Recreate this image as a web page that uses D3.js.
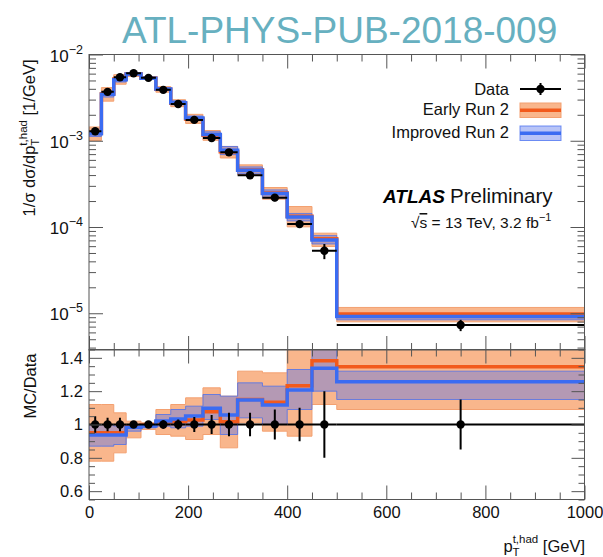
<!DOCTYPE html>
<html>
<head>
<meta charset="utf-8">
<script src="https://cdn.jsdelivr.net/npm/d3@7"></script>
<style>
  body { margin: 0; background: #fff; }
  svg text { font-family: "Liberation Sans", Arial, Helvetica, sans-serif; }
</style>
</head>
<body>
<svg id="chart" width="603" height="557"></svg>
<script>
// Hadronic top-quark pT: unfolded data vs. two MC tunes, with MC/Data ratio

const binEdges = [0, 25, 50, 75, 105, 135, 165, 195, 230, 265, 300, 350, 400, 450, 500, 1000];

// normalised cross-section, 1/GeV
const dataValues = [1.29e-3, 3.69e-3, 5.45e-3, 6.06e-3, 5.36e-3, 3.89e-3, 2.67e-3, 1.745e-3,
                    1.077e-3, 7.34e-4, 3.98e-4, 2.19e-4, 1.08e-4, 5.3e-5, 7.3e-6];
const dataRelErr = [0.05, 0.04, 0.04, 0.02, 0.02, 0.025, 0.03, 0.045, 0.057, 0.07, 0.07, 0.09, 0.10, 0.20, 0.15];

// MC / Data ratios: central value and uncertainty band edges
const earlyRatio = [0.951, 0.951, 0.951, 0.990, 0.997, 1.015, 1.018, 1.027, 1.077, 1.017, 1.150, 1.133, 1.233, 1.383, 1.347];
const earlyLo    = [0.78, 0.78, 0.83, 0.92, 0.97, 0.94, 0.93, 0.91, 0.94, 0.86, 1.01, 0.96, 0.93, 1.12, 1.09];
const earlyHi    = [1.12, 1.12, 1.07, 1.02, 1.01, 1.09, 1.12, 1.16, 1.22, 1.17, 1.32, 1.31, 1.60, 1.60, 1.60];

const improvedRatio = [0.937, 0.937, 0.937, 0.983, 0.991, 1.021, 1.033, 1.051, 1.097, 1.057, 1.147, 1.117, 1.207, 1.337, 1.257];
const improvedLo    = [0.87, 0.87, 0.88, 0.96, 0.98, 0.99, 0.98, 0.99, 1.03, 0.94, 1.04, 1.00, 1.09, 1.20, 1.15];
const improvedHi    = [1.00, 1.00, 0.99, 0.99, 1.00, 1.06, 1.09, 1.11, 1.18, 1.17, 1.25, 1.23, 1.33, 1.50, 1.32];

const xMajorTicks = [0, 200, 400, 600, 800, 1000];
const yTopMajorTicks = [1e-2, 1e-3, 1e-4, 1e-5];
const yTopTickLabels = ["\u22122", "\u22123", "\u22124", "\u22125"];
const yBotMajorTicks = [0.6, 0.8, 1.0, 1.2, 1.4];
const yBotTickLabels = ["0.6", "0.8", "1", "1.2", "1.4"];

const legendLabels = ["Data", "Early Run 2", "Improved Run 2"];

// ---------------------------------------------------------------------------
const C = {
  frame: "#555",
  orangeBand: "#f9b68c",
  orangeEdge: "#f3a070",
  orangeLine: "#f25a1c",
  blueLine: "#3b6cf2",
  blueBand: "rgba(85,115,235,0.42)",
  blueEdge: "rgba(70,110,240,0.75)",
  title: "#67b0c0"
};

const svg = d3.select("#chart");

const x = d3.scaleLinear().domain([0, 1000]).range([89, 584.5]);
const yTop = d3.scaleLog().domain([3.75e-6, 1e-2]).range([350, 54.5]);
const yBot = d3.scaleLinear().domain([0.55, 1.45]).range([499.5, 349.5]);

const X0 = x.range()[0], X1 = x.range()[1];
const TOP0 = yTop.range()[1], TOP1 = yTop.range()[0];
const BOT0 = yBot.range()[1], BOT1 = yBot.range()[0];

const nb = dataValues.length;
const centers = d3.range(nb).map(i => (binEdges[i] + binEdges[i + 1]) / 2);
const times = (r, i) => r * dataValues[i];

// clip paths
const defs = svg.append("defs");
defs.append("clipPath").attr("id", "clipTop").append("rect")
  .attr("x", X0).attr("y", TOP0).attr("width", X1 - X0).attr("height", TOP1 - TOP0);
defs.append("clipPath").attr("id", "clipBot").append("rect")
  .attr("x", X0).attr("y", BOT0).attr("width", X1 - X0).attr("height", BOT1 - BOT0);

// helpers -------------------------------------------------------------
const stepPts = vals => binEdges.map((e, i) => [e, vals[Math.min(i, vals.length - 1)]]);
function stepLine(vals, y) {
  return d3.line().x(d => x(d[0])).y(d => y(d[1])).curve(d3.curveStepAfter)(stepPts(vals));
}
function stepArea(lo, hi, y) {
  const pts = binEdges.map((e, i) => { const k = Math.min(i, lo.length - 1); return [e, lo[k], hi[k]]; });
  return d3.area().x(d => x(d[0])).y0(d => y(d[1])).y1(d => y(d[2])).curve(d3.curveStepAfter)(pts);
}

function drawPanel(g, y, vals) {
  g.append("path").attr("d", stepArea(vals.eLo, vals.eHi, y))
    .attr("fill", C.orangeBand).attr("stroke", C.orangeEdge).attr("stroke-width", 1);
  g.append("path").attr("d", stepArea(vals.iLo, vals.iHi, y))
    .attr("fill", C.blueBand).attr("stroke", C.blueEdge).attr("stroke-width", 1);
  g.append("path").attr("d", stepLine(vals.eC, y))
    .attr("fill", "none").attr("stroke", C.orangeLine).attr("stroke-width", 3.5);
  g.append("path").attr("d", stepLine(vals.iC, y))
    .attr("fill", "none").attr("stroke", C.blueLine).attr("stroke-width", 3.5);
}

function drawData(g, y, vals, lo, hi) {
  const d = d3.range(nb);
  g.selectAll(null).data(d).enter().append("line")
    .attr("x1", i => x(binEdges[i])).attr("x2", i => x(binEdges[i + 1]))
    .attr("y1", i => y(vals[i])).attr("y2", i => y(vals[i]))
    .attr("stroke", "#000").attr("stroke-width", 2);
  g.selectAll(null).data(d).enter().append("line")
    .attr("x1", i => x(centers[i])).attr("x2", i => x(centers[i]))
    .attr("y1", i => y(lo[i])).attr("y2", i => y(hi[i]))
    .attr("stroke", "#000").attr("stroke-width", 2);
  g.selectAll(null).data(d).enter().append("circle")
    .attr("cx", i => x(centers[i])).attr("cy", i => y(vals[i])).attr("r", 4.2)
    .attr("fill", "#000");
}

// upper panel --------------------------------------------------------
const gTop = svg.append("g").attr("clip-path", "url(#clipTop)");
drawPanel(gTop, yTop, {
  eLo: earlyLo.map(times), eHi: earlyHi.map(times), eC: earlyRatio.map(times),
  iLo: improvedLo.map(times), iHi: improvedHi.map(times), iC: improvedRatio.map(times)
});
drawData(gTop, yTop, dataValues,
  dataValues.map((v, i) => v * (1 - dataRelErr[i])),
  dataValues.map((v, i) => v * (1 + dataRelErr[i])));

// lower panel --------------------------------------------------------
const gBot = svg.append("g").attr("clip-path", "url(#clipBot)");
drawPanel(gBot, yBot, {
  eLo: earlyLo, eHi: earlyHi, eC: earlyRatio,
  iLo: improvedLo, iHi: improvedHi, iC: improvedRatio
});
const ones = dataValues.map(() => 1);
drawData(gBot, yBot, ones, dataRelErr.map(e => 1 - e), dataRelErr.map(e => 1 + e));

// axes -----------------------------------------------------------------
const xMinorTicks = d3.range(0, 1001, 50).filter(v => !xMajorTicks.includes(v));
const yTopMinorTicks = [];
for (let k = -6; k <= -3; k++) for (let m = 2; m <= 9; m++) {
  const v = m * Math.pow(10, k);
  if (v >= yTop.domain()[0] && v <= yTop.domain()[1]) yTopMinorTicks.push(v);
}
const yBotMinorTicks = d3.range(11, 30).map(i => +(i * 0.05).toFixed(2))
  .filter(v => !yBotMajorTicks.some(m => Math.abs(m - v) < 1e-6));

function tickAxis(gen, tr, values, size, fmt, pad) {
  const g = svg.append("g").attr("transform", tr)
    .call(gen.tickValues(values).tickSize(size).tickPadding(pad || 3).tickFormat(fmt || (() => "")));
  g.select(".domain").remove();
  g.selectAll(".tick line").attr("stroke", C.frame).attr("stroke-width", 1);
  g.selectAll(".tick text").attr("fill", "#111").attr("font-size", 16.5)
    .attr("font-family", '"Liberation Sans", Arial, sans-serif');
  return g;
}

// x ticks on every horizontal frame edge
[[d3.axisTop, TOP0], [d3.axisBottom, TOP1], [d3.axisTop, BOT0]].forEach(([gen, yy]) => {
  tickAxis(gen(x), `translate(0,${yy})`, xMajorTicks, -14);
  tickAxis(gen(x), `translate(0,${yy})`, xMinorTicks, -7);
});
tickAxis(d3.axisBottom(x), `translate(0,${BOT1})`, xMajorTicks, -14, d3.format("d"), 7);
tickAxis(d3.axisBottom(x), `translate(0,${BOT1})`, xMinorTicks, -7);

// y ticks, left and right
tickAxis(d3.axisLeft(yTop), `translate(${X0},0)`, yTopMajorTicks, -14);
tickAxis(d3.axisLeft(yTop), `translate(${X0},0)`, yTopMinorTicks, -7);
tickAxis(d3.axisRight(yTop), `translate(${X1},0)`, yTopMajorTicks, -14);
tickAxis(d3.axisRight(yTop), `translate(${X1},0)`, yTopMinorTicks, -7);

tickAxis(d3.axisLeft(yBot), `translate(${X0},0)`, yBotMajorTicks, -13,
  v => yBotTickLabels[yBotMajorTicks.indexOf(v)], 6);
tickAxis(d3.axisLeft(yBot), `translate(${X0},0)`, yBotMinorTicks, -6);
tickAxis(d3.axisRight(yBot), `translate(${X1},0)`, yBotMajorTicks, -13);
tickAxis(d3.axisRight(yBot), `translate(${X1},0)`, yBotMinorTicks, -6);

// power-of-ten labels on the log axis
yTopMajorTicks.forEach((v, i) => {
  const t = svg.append("text").attr("x", 83).attr("y", yTop(v) + 7)
    .attr("text-anchor", "end").attr("font-size", 17).attr("fill", "#111");
  t.append("tspan").text("10");
  t.append("tspan").attr("dy", -8).attr("font-size", 12.5).text(yTopTickLabels[i]);
});

// frames
svg.append("rect").attr("x", X0).attr("y", TOP0).attr("width", X1 - X0).attr("height", TOP1 - TOP0)
  .attr("fill", "none").attr("stroke", C.frame).attr("stroke-width", 1);
svg.append("rect").attr("x", X0).attr("y", BOT0).attr("width", X1 - X0).attr("height", BOT1 - BOT0)
  .attr("fill", "none").attr("stroke", C.frame).attr("stroke-width", 1);

// axis titles ----------------------------------------------------------
const yt = svg.append("text").attr("transform", "translate(35,138) rotate(-90)")
  .attr("text-anchor", "middle").attr("font-size", 16.5).attr("fill", "#111");
yt.append("tspan").text("1/\u03c3 d\u03c3/dp");
yt.append("tspan").attr("dy", 4).attr("font-size", 11.5).text("T");
yt.append("tspan").attr("dx", -7).attr("dy", -12).attr("font-size", 11.5).text("t,had");
yt.append("tspan").attr("dy", 8).text(" [1/GeV]");

svg.append("text").attr("transform", "translate(36,386) rotate(-90)")
  .attr("text-anchor", "middle").attr("font-size", 16.5).attr("fill", "#111").text("MC/Data");

const xt = svg.append("text").attr("x", 585).attr("y", 552)
  .attr("text-anchor", "end").attr("font-size", 16.5).attr("fill", "#111");
xt.append("tspan").text("p");
xt.append("tspan").attr("dy", 4).attr("font-size", 11.5).text("T");
xt.append("tspan").attr("dx", -7).attr("dy", -13).attr("font-size", 11.5).text("t,had");
xt.append("tspan").attr("dy", 9).text(" [GeV]");

// legend ---------------------------------------------------------------
const lg = svg.append("g");
const legY = [95, 115, 138];
legendLabels.forEach((s, i) => {
  lg.append("text").attr("x", 509).attr("y", legY[i]).attr("text-anchor", "end")
    .attr("font-size", 16.5).attr("fill", "#111").text(s);
});
lg.append("line").attr("x1", 520).attr("x2", 561).attr("y1", 89).attr("y2", 89)
  .attr("stroke", "#000").attr("stroke-width", 2);
lg.append("line").attr("x1", 540.5).attr("x2", 540.5).attr("y1", 83).attr("y2", 95)
  .attr("stroke", "#000").attr("stroke-width", 2);
lg.append("circle").attr("cx", 540.5).attr("cy", 89).attr("r", 4.2).attr("fill", "#000");

lg.append("rect").attr("x", 520).attr("y", 103).attr("width", 41).attr("height", 14.5)
  .attr("fill", C.orangeBand).attr("stroke", C.orangeEdge);
lg.append("line").attr("x1", 520).attr("x2", 561).attr("y1", 110.3).attr("y2", 110.3)
  .attr("stroke", C.orangeLine).attr("stroke-width", 3.5);
lg.append("rect").attr("x", 520).attr("y", 126).attr("width", 41).attr("height", 14.5)
  .attr("fill", C.blueBand).attr("stroke", C.blueEdge);
lg.append("line").attr("x1", 520).attr("x2", 561).attr("y1", 133.3).attr("y2", 133.3)
  .attr("stroke", C.blueLine).attr("stroke-width", 3.5);

// experiment label -------------------------------------------------------
svg.append("text").attr("x", 383).attr("y", 203).attr("font-size", 19)
  .attr("font-weight", "bold").attr("font-style", "italic").attr("fill", "#000").text("ATLAS");
svg.append("text").attr("x", 450).attr("y", 203).attr("font-size", 20.5)
  .attr("fill", "#111").text("Preliminary");
const en = svg.append("text").attr("x", 411).attr("y", 228).attr("font-size", 15.5).attr("fill", "#111");
en.append("tspan").text("\u221a");
en.append("tspan").attr("text-decoration", "overline").text("s");
en.append("tspan").text(" = 13 TeV, 3.2 fb");
en.append("tspan").attr("dy", -7).attr("font-size", 11).text("\u22121");

// document number --------------------------------------------------------
svg.append("text").attr("x", 122).attr("y", 43).attr("font-size", 37)
  .attr("fill", C.title).text("ATL-PHYS-PUB-2018-009");
</script>
</body>
</html>
